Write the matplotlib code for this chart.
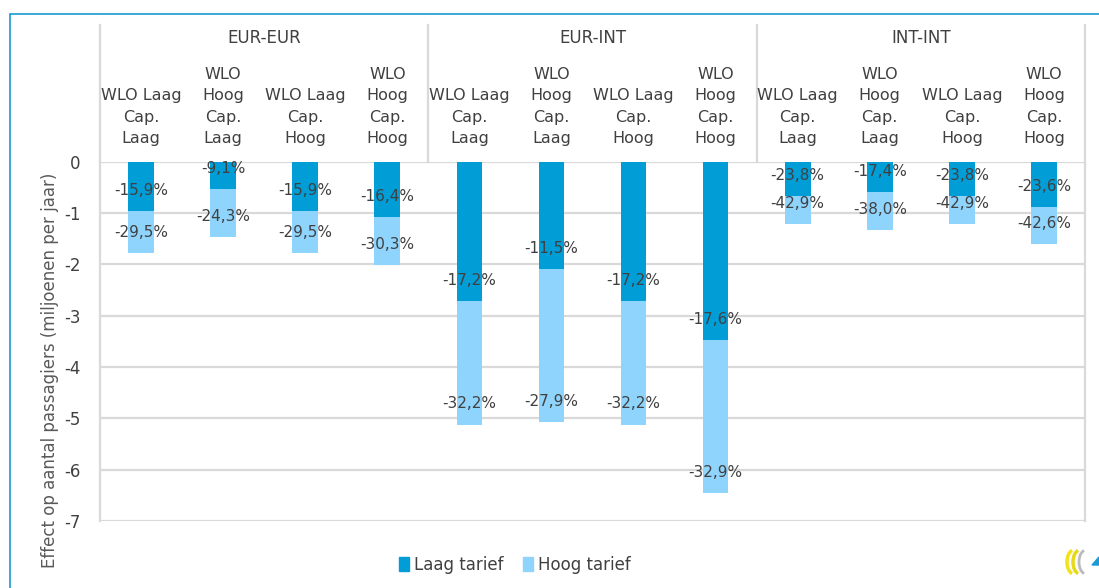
import matplotlib
matplotlib.use("Agg")
import matplotlib.pyplot as plt
from matplotlib.transforms import blended_transform_factory
from matplotlib.patches import Rectangle, Arc, Polygon
from matplotlib.lines import Line2D

plt.rcParams['font.family'] = ['DejaVu Sans']
plt.rcParams['axes.unicode_minus'] = False

# ---- data ----
regions = ["EUR-EUR", "EUR-INT", "INT-INT"]
scenarios = ["WLO Laag\nCap.\nLaag", "WLO\nHoog\nCap.\nLaag",
             "WLO Laag\nCap.\nHoog", "WLO\nHoog\nCap.\nHoog"]
laag_tarief = [-0.955, -0.54, -0.955, -1.085,
               -2.72, -2.085, -2.72, -3.47,
               -0.67, -0.60, -0.67, -0.89]
hoog_tarief = [-1.786, -1.47, -1.786, -2.02,
               -5.12, -5.08, -5.12, -6.45,
               -1.214, -1.33, -1.214, -1.61]
laag_pct = ["-15,9%", "-9,1%", "-15,9%", "-16,4%",
            "-17,2%", "-11,5%", "-17,2%", "-17,6%",
            "-23,8%", "-17,4%", "-23,8%", "-23,6%"]
hoog_pct = ["-29,5%", "-24,3%", "-29,5%", "-30,3%",
            "-32,2%", "-27,9%", "-32,2%", "-32,9%",
            "-42,9%", "-38,0%", "-42,9%", "-42,6%"]
yticks = [0, -1, -2, -3, -4, -5, -6, -7]
series_names = ["Laag tarief", "Hoog tarief"]

# ---- style ----
C_DARK = "#009DD7"
C_LIGHT = "#8FD4FC"
C_GRID = "#D9D9D9"
C_TEXT = "#404040"
W, H = 1099, 588

fig = plt.figure(figsize=(W / 100, H / 100), dpi=100)
# axes: x 100..1085 px, y 161.7..521 px (from top)
ax = fig.add_axes([100 / W, 1 - 521 / H, 985 / W, (521 - 161.7) / H])

n = len(laag_tarief)
x = list(range(n))
bw = 0.313
ax.bar(x, hoog_tarief, width=bw, color=C_LIGHT, zorder=2, label=series_names[1])
ax.bar(x, laag_tarief, width=bw, color=C_DARK, zorder=3, label=series_names[0])

for i in range(n):
    ax.annotate(laag_pct[i], (x[i], laag_tarief[i]), xytext=(0, 14.8),
                textcoords="offset points", ha="center", va="center",
                fontsize=11, color=C_TEXT, zorder=5)
    ax.annotate(hoog_pct[i], (x[i], hoog_tarief[i]), xytext=(0, 14.8),
                textcoords="offset points", ha="center", va="center",
                fontsize=11, color=C_TEXT, zorder=5)

ax.set_xlim(-0.5, n - 0.5)
ax.set_ylim(min(yticks), max(yticks))
ax.set_yticks(yticks)
ax.set_yticklabels([str(v) for v in yticks])
ax.tick_params(axis="y", length=0, pad=14, labelsize=12, labelcolor=C_TEXT)
ax.set_xticks([])
for s in ["top", "bottom"]:
    ax.spines[s].set_visible(False)
for s in ["left", "right"]:
    ax.spines[s].set_color(C_GRID)
    ax.spines[s].set_linewidth(1.6)
ax.yaxis.grid(True, color=C_GRID, linewidth=1.6, zorder=0)
ax.set_axisbelow(True)

# ---- header (multi-level category axis) ----
tr = blended_transform_factory(ax.transData, fig.transFigure)
def fy(p):
    return 1 - p / H

for b in [-0.5, 3.5, 7.5, 11.5]:
    fig.add_artist(Line2D([b, b], [fy(161.7), fy(25)], transform=tr,
                          color=C_GRID, linewidth=1.6))
for g, name in enumerate(regions):
    fig.text(g * 4 + 1.5, fy(38), name, transform=tr, ha="center",
             va="center", fontsize=12, color=C_TEXT)
    for k, sc in enumerate(scenarios):
        fig.text(g * 4 + k, fy(146), sc, transform=tr, ha="center",
                 va="bottom", fontsize=11.5, color=C_TEXT, linespacing=1.53)

# y label
fig.text(50 / W, fy(370), "Effect op aantal passagiers (miljoenen per jaar)",
         rotation=90, ha="center", va="center", fontsize=12, color="#595959")

# legend
handles = [Rectangle((0, 0), 1, 1, color=C_DARK), Rectangle((0, 0), 1, 1, color=C_LIGHT)]
fig.legend(handles, series_names, loc="center", bbox_to_anchor=(515 / W, fy(565)),
           ncol=2, frameon=False, fontsize=12, handlelength=0.6, handleheight=0.9,
           handletextpad=0.3, columnspacing=1.2, labelcolor=C_TEXT)

# outer frame (cut off at right / bottom)
fig.add_artist(Rectangle((9.5 / W, -0.1), 1.2, fy(13.5) + 0.1, transform=fig.transFigure,
                         fill=False, edgecolor="#1A9AD6", linewidth=1.2))

# small logo bottom right
px = fig.transFigure
def P(xp, yp):
    return (xp / W, fy(yp))
for cx, col in [(1074, "#F2E21B"), (1080, "#E8D81A")]:
    fig.add_artist(Arc(P(cx, 562), 14 / W, 24 / H, theta1=95, theta2=265,
                       transform=px, color=col, linewidth=2.5))
fig.add_artist(Arc(P(1086, 562), 14 / W, 24 / H, theta1=95, theta2=265,
                   transform=px, color="#BBBBBB", linewidth=2))
fig.add_artist(Polygon([P(1092, 565), P(1099, 557), P(1099, 565)], closed=True,
                       transform=px, color="#1A9AD6"))

fig.savefig("out.png", dpi=100)
